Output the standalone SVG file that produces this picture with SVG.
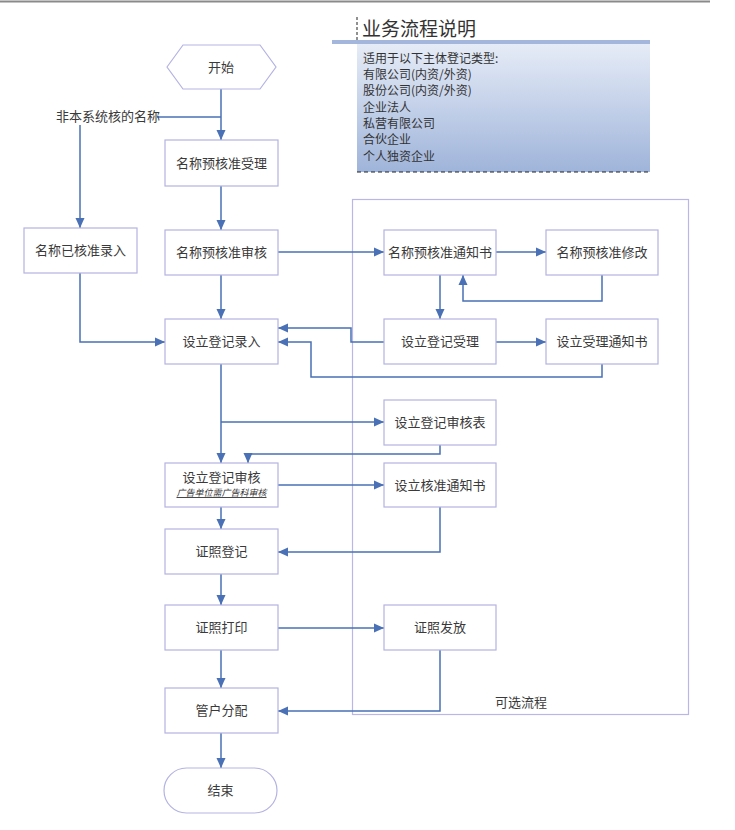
<svg xmlns="http://www.w3.org/2000/svg" width="735" height="830" viewBox="0 0 735 830">
<defs>
<linearGradient id="g" x1="0" y1="0" x2="0" y2="1">
<stop offset="0" stop-color="#e6ecf7"/>
<stop offset="1" stop-color="#9fb4da"/>
</linearGradient>
<marker id="a" markerUnits="userSpaceOnUse" markerWidth="10" markerHeight="10" viewBox="0 0 10 10" refX="10" refY="5" orient="auto">
<path d="M0,0.5 L10,5 L0,9.5 z" fill="#4a70b5"/>
</marker>
</defs>
<style>
.b{fill:#fff;stroke:#b3b3e3;stroke-width:1.2}
.t{font-family:"Noto Sans CJK SC","Noto Sans",sans-serif;font-size:13px;fill:#3a3a3a;text-anchor:middle}
.l{font-family:"Noto Sans CJK SC","Noto Sans",sans-serif;font-size:12px;fill:#333}
.c{fill:none;stroke:#4a70b5;stroke-width:1.5}
</style>
<rect width="735" height="830" fill="#fff"/>
<line x1="0" y1="1.5" x2="710" y2="1.5" stroke="#8a8a8a" stroke-width="2"/>

<g id="legend">
<rect x="357" y="44" width="293" height="128" fill="url(#g)"/>
<rect x="332" y="40" width="318" height="4" fill="#a4b6dc"/>
<line x1="357" y1="17" x2="357" y2="42" stroke="#222" stroke-width="1" stroke-dasharray="3,2"/>
<line x1="357" y1="172" x2="650" y2="172" stroke="#222" stroke-width="1.2" stroke-dasharray="4,3"/>
<text x="362" y="36" font-family="Noto Sans CJK SC,sans-serif" font-size="19" fill="#333">业务流程说明</text>
<text class="l" x="363" y="63">适用于以下主体登记类型:</text>
<text class="l" x="363" y="79">有限公司(内资/外资)</text>
<text class="l" x="363" y="95">股份公司(内资/外资)</text>
<text class="l" x="363" y="112">企业法人</text>
<text class="l" x="363" y="128">私营有限公司</text>
<text class="l" x="363" y="144">合伙企业</text>
<text class="l" x="363" y="161">个人独资企业</text>
</g>

<g id="optional">
<rect x="352.5" y="199.5" width="336" height="515" fill="none" stroke="#b8b8e8" stroke-width="1.2"/>
<text class="t" x="521" y="707">可选流程</text>
</g>

<g id="connectors">
<path class="c" d="M221,89 V140" marker-end="url(#a)"/>
<path class="c" d="M157,117 H221"/>
<path class="c" d="M80,125 V228" marker-end="url(#a)"/>
<path class="c" d="M221,186 V230" marker-end="url(#a)"/>
<path class="c" d="M278,252 H384" marker-end="url(#a)"/>
<path class="c" d="M496,252 H546" marker-end="url(#a)"/>
<path class="c" d="M602,275 V301 H463 V275" marker-end="url(#a)"/>
<path class="c" d="M440,275 V319" marker-end="url(#a)"/>
<path class="c" d="M221,275 V319" marker-end="url(#a)"/>
<path class="c" d="M80,273 V342 H165" marker-end="url(#a)"/>
<path class="c" d="M384,342 H351 V328 H278" marker-end="url(#a)"/>
<path class="c" d="M496,342 H546" marker-end="url(#a)"/>
<path class="c" d="M602,364 V377 H311 V342 H278" marker-end="url(#a)"/>
<path class="c" d="M221,364 V463" marker-end="url(#a)"/>
<path class="c" d="M221,422 H384" marker-end="url(#a)"/>
<path class="c" d="M440,445 V454 H248 V463" marker-end="url(#a)"/>
<path class="c" d="M278,485 H384" marker-end="url(#a)"/>
<path class="c" d="M221,507 V529" marker-end="url(#a)"/>
<path class="c" d="M440,507 V552 H278" marker-end="url(#a)"/>
<path class="c" d="M221,574 V605" marker-end="url(#a)"/>
<path class="c" d="M278,628 H384" marker-end="url(#a)"/>
<path class="c" d="M221,650 V688" marker-end="url(#a)"/>
<path class="c" d="M440,650 V711 H278" marker-end="url(#a)"/>
<path class="c" d="M221,733 V768" marker-end="url(#a)"/>
</g>

<g id="start"><polygon class="b" points="167,67 183,45 260,45 276,67 260,89 183,89"/><text class="t" x="221" y="72">开始</text></g>
<g id="n1"><rect class="b" x="165" y="140" width="113" height="46"/><text class="t" x="221.5" y="168">名称预核准受理</text></g>
<g id="extlabel"><text class="t" x="108" y="121">非本系统核的名称</text></g>
<g id="n2"><rect class="b" x="24" y="228" width="113" height="45"/><text class="t" x="80.5" y="255">名称已核准录入</text></g>
<g id="n3"><rect class="b" x="165" y="230" width="113" height="45"/><text class="t" x="221.5" y="257">名称预核准审核</text></g>
<g id="n4"><rect class="b" x="384" y="230" width="112" height="45"/><text class="t" x="440" y="257">名称预核准通知书</text></g>
<g id="n5"><rect class="b" x="546" y="230" width="112" height="45"/><text class="t" x="602" y="257">名称预核准修改</text></g>
<g id="n6"><rect class="b" x="165" y="319" width="113" height="45"/><text class="t" x="221.5" y="346">设立登记录入</text></g>
<g id="n7"><rect class="b" x="384" y="319" width="112" height="45"/><text class="t" x="440" y="346">设立登记受理</text></g>
<g id="n8"><rect class="b" x="546" y="319" width="112" height="45"/><text class="t" x="602" y="346">设立受理通知书</text></g>
<g id="n9"><rect class="b" x="384" y="400" width="112" height="45"/><text class="t" x="440" y="427">设立登记审核表</text></g>
<g id="n10"><rect class="b" x="165" y="463" width="113" height="44"/><text class="t" x="221.5" y="482">设立登记审核</text><text x="221.5" y="496" font-family="Noto Sans CJK SC,sans-serif" font-size="9" font-style="italic" text-decoration="underline" fill="#333" text-anchor="middle">广告单位需广告科审核</text></g>
<g id="n11"><rect class="b" x="384" y="463" width="112" height="44"/><text class="t" x="440" y="490">设立核准通知书</text></g>
<g id="n12"><rect class="b" x="165" y="529" width="113" height="45"/><text class="t" x="221.5" y="556">证照登记</text></g>
<g id="n13"><rect class="b" x="165" y="605" width="113" height="45"/><text class="t" x="221.5" y="632">证照打印</text></g>
<g id="n14"><rect class="b" x="384" y="605" width="112" height="45"/><text class="t" x="440" y="632">证照发放</text></g>
<g id="n15"><rect class="b" x="165" y="688" width="113" height="45"/><text class="t" x="221.5" y="715">管户分配</text></g>
<g id="end"><rect class="b" x="164" y="768" width="113" height="45" rx="22.5"/><text class="t" x="220.5" y="795">结束</text></g>
</svg>
